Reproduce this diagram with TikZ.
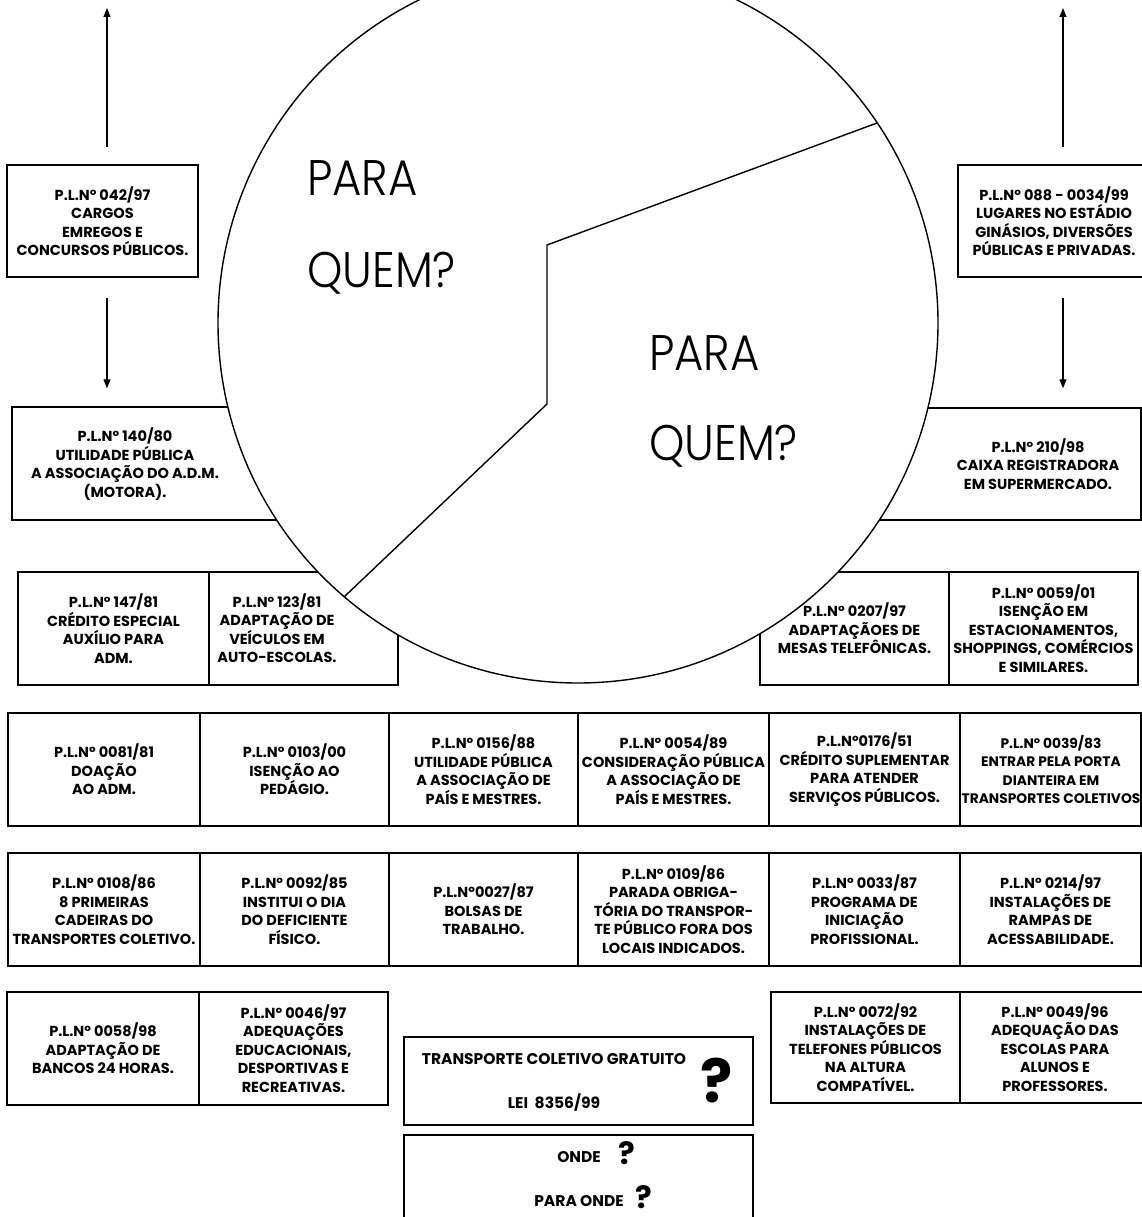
\documentclass[tikz,border=0pt]{standalone}
\usepackage{fontspec}
\setmainfont{Poppins}
\newfontfamily\thinfont{Poppins Light}[FakeStretch=0.9]
\usetikzlibrary{arrows.meta}
\newcommand\mybf{\bfseries\fontsize{14.5}{18.5}\selectfont}
\newcommand\pbox[6]{\node[lbox, minimum width={(#4-#2)*1pt}, minimum height={(#5-#3)*1pt}] (#1) at ({(#2+#4)/2},{(#3+#5)/2}) {#6};}
\tikzset{
  lbox/.style={draw, line width=1.4pt, fill=white, align=center, inner sep=0pt, font=\mybf},
  ltext/.style={align=center, inner sep=0pt, font=\mybf},
  btext/.style={align=center, inner sep=0pt, font=\bfseries\fontsize{15.5}{18.5}\selectfont},
  disc/.style={draw, line width=1.4pt, fill=white},
  divline/.style={line width=1.4pt},
  big/.style={inner sep=0pt, anchor=base west, font=\thinfont\fontsize{50}{50}\selectfont},
  arr/.style={line width=1.2pt, -{Triangle[length=9pt,width=7pt]}},
  qmark/.style={inner sep=0pt, font=\bfseries\fontsize{60}{60}\selectfont},
  qsmall/.style={inner sep=0pt, font=\bfseries\fontsize{31}{31}\selectfont}
}
\begin{document}
\begin{tikzpicture}[x=1pt,y=-1pt]
\useasboundingbox (0,0) rectangle (1142,1217);
\clip (0,0) rectangle (1142,1217);
\fill[white] (0,0) rectangle (1142,1217);

% row 1
\pbox{b1}{7}{165}{198}{277}{P.L.Nº 042/97\\CARGOS\\EMREGOS E\\CONCURSOS PÚBLICOS.}
\pbox{b2}{958}{165}{1150}{277}{P.L.Nº 088 - 0034/99\\LUGARES NO ESTÁDIO\\GINÁSIOS, DIVERSÕES\\PÚBLICAS E PRIVADAS.}
% row 2
\pbox{b3}{12}{407}{320}{520}{}
\pbox{b4}{840}{408}{1141}{520}{}
% row 3
\pbox{c1}{18}{572}{209}{685}{P.L.Nº 147/81\\CRÉDITO ESPECIAL\\AUXÍLIO PARA\\ADM.}
\pbox{c2}{209}{572}{398}{685}{}
\pbox{c3}{760}{572}{949}{685}{P.L.Nº 0207/97\\ADAPTAÇÃOES DE\\MESAS TELEFÔNICAS.}
\pbox{c4}{949}{572}{1138}{685}{P.L.Nº 0059/01\\ISENÇÃO EM\\ESTACIONAMENTOS,\\SHOPPINGS, COMÉRCIOS\\E SIMILARES.}
% row 4
\pbox{d1}{8}{713}{200}{826}{P.L.Nº 0081/81\\DOAÇÃO\\AO ADM.}
\pbox{d2}{200}{713}{389}{826}{P.L.Nº 0103/00\\ISENÇÃO AO\\PEDÁGIO.}
\pbox{d3}{389}{713}{578}{826}{P.L.Nº 0156/88\\UTILIDADE PÚBLICA\\A ASSOCIAÇÃO DE\\PAÍS E MESTRES.}
\pbox{d4}{578}{713}{769}{826}{P.L.Nº 0054/89\\CONSIDERAÇÃO PÚBLICA\\A ASSOCIAÇÃO DE\\PAÍS E MESTRES.}
\pbox{d5}{769}{713}{960}{826}{P.L.Nº0176/51\\CRÉDITO SUPLEMENTAR\\PARA ATENDER\\SERVIÇOS PÚBLICOS.}
\pbox{d6}{960}{713}{1141}{826}{}
\node[ltext, font=\bfseries\fontsize{13.8}{18.5}\selectfont] (td6) at (1051,769.5) {P.L.Nº 0039/83\\ENTRAR PELA PORTA\\DIANTEIRA EM\\TRANSPORTES COLETIVOS};
% row 5
\pbox{e1}{8}{853}{200}{966}{P.L.Nº 0108/86\\8 PRIMEIRAS\\CADEIRAS DO\\TRANSPORTES COLETIVO.}
\pbox{e2}{200}{853}{389}{966}{P.L.Nº 0092/85\\INSTITUI O DIA\\DO DEFICIENTE\\FÍSICO.}
\pbox{e3}{389}{853}{578}{966}{P.L.Nº0027/87\\BOLSAS DE\\TRABALHO.}
\pbox{e4}{578}{853}{769}{966}{P.L.Nº 0109/86\\PARADA OBRIGA-\\TÓRIA DO TRANSPOR-\\TE PÚBLICO FORA DOS\\LOCAIS INDICADOS.}
\pbox{e5}{769}{853}{960}{966}{P.L.Nº 0033/87\\PROGRAMA DE\\INICIAÇÃO\\PROFISSIONAL.}
\pbox{e6}{960}{853}{1141}{966}{P.L.Nº 0214/97\\INSTALAÇÕES DE\\RAMPAS DE\\ACESSABILIDADE.}
% row 6
\pbox{f1}{7}{992}{199}{1105}{P.L.Nº 0058/98\\ADAPTAÇÃO DE\\BANCOS 24 HORAS.}
\pbox{f2}{199}{992}{388}{1105}{P.L.Nº 0046/97\\ADEQUAÇÕES\\EDUCACIONAIS,\\DESPORTIVAS E\\RECREATIVAS.}
\pbox{f3}{771}{992}{960}{1103}{P.L.Nº 0072/92\\INSTALAÇÕES DE\\TELEFONES PÚBLICOS\\NA ALTURA\\COMPATÍVEL.}
\pbox{f4}{960}{992}{1150}{1103}{P.L.Nº 0049/96\\ADEQUAÇÃO DAS\\ESCOLAS PARA\\ALUNOS E\\PROFESSORES.}
% bottom boxes
\pbox{g1}{404}{1037}{753}{1125}{}
\pbox{g2}{404}{1135}{753}{1232}{}

% the disc
\draw[disc] (578,323) circle[radius=360pt];
\coordinate (dR) at (877,123);
\coordinate (dK1) at (547,245);
\coordinate (dK2) at (547,404);
\coordinate (dL) at (344,597);
\draw[divline] (dR) -- (dK1) -- (dK2) -- (dL);

\node[big] (p1) at (307,196) {PARA};
\node[big] (q1) at (307,287) {QUEM?};
\node[big] (p2) at (649,370) {PARA};
\node[big] (q2) at (649,460) {QUEM?};

% texts of partly hidden boxes
\node[ltext] (t3) at (125,464) {P.L.Nº 140/80\\UTILIDADE PÚBLICA\\A ASSOCIAÇÃO DO A.D.M.\\(MOTORA).};
\node[ltext] (t4) at (1038,464) {P.L.Nº 210/98\\CAIXA REGISTRADORA\\EM SUPERMERCADO.};
\node[ltext] (tc2) at (277,628) {P.L.Nº 123/81\\ADAPTAÇÃO DE\\VEÍCULOS EM\\AUTO-ESCOLAS.};

% bottom texts
\node[btext] (tg1) at (554,1059) {TRANSPORTE COLETIVO GRATUITO};
\node[btext] (tg2) at (554,1103) {LEI\ \ 8356/99};
\node[qmark] (qg) at (717,1080) {?};
\node[btext] (on1) at (579,1157) {ONDE};
\node[qsmall] (qo1) at (627,1153) {?};
\node[btext] (on2) at (579,1201) {PARA ONDE};
\node[qsmall] (qo2) at (644,1197) {?};

% arrows
\coordinate (topL) at (107,8);
\coordinate (topR) at (1063,8);
\draw[arr] ([xshift=4.5pt,yshift=17pt]b1.north) -- (topL);
\draw[arr] ([xshift=4.5pt,yshift=-20pt]b1.south) -- ([yshift=18pt]topL |- b3.north);
\draw[arr] ([xshift=9pt,yshift=17pt]b2.north) -- (topR);
\draw[arr] ([xshift=9pt,yshift=-20pt]b2.south) -- ([yshift=19pt]topR |- b4.north);
\end{tikzpicture}
\end{document}
